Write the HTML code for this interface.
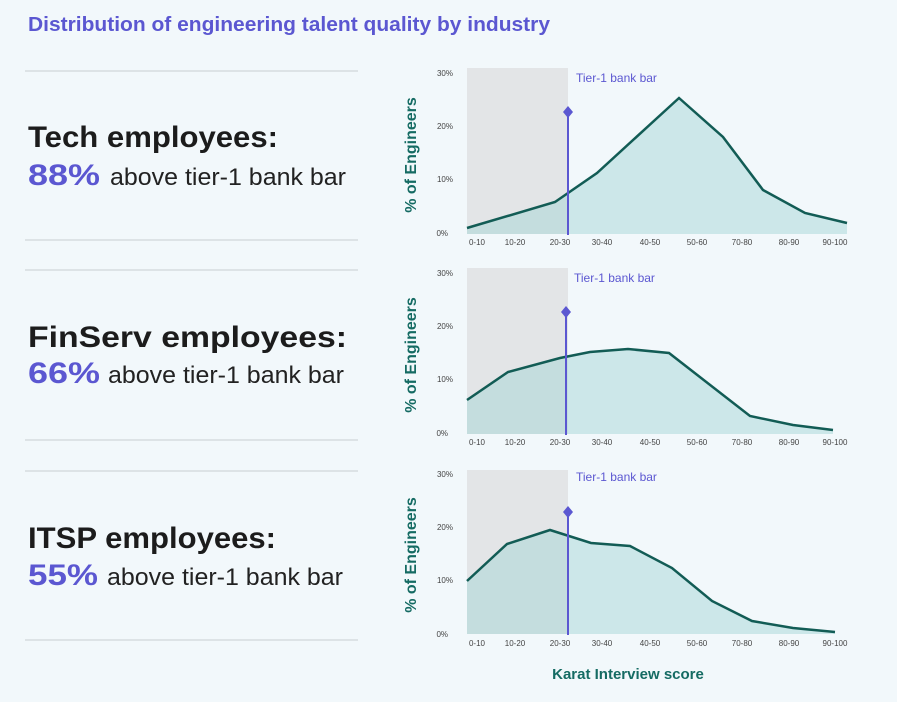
<!DOCTYPE html>
<html><head><meta charset="utf-8"><style>
html,body{margin:0;padding:0;background:#f2f8fb;}
svg{display:block;font-family:"Liberation Sans",sans-serif;}
</style></head><body>
<svg width="897" height="702" viewBox="0 0 897 702" xmlns="http://www.w3.org/2000/svg">
<rect width="897" height="702" fill="#f2f8fb"/>
<text x="28" y="31" font-size="20" font-weight="bold" fill="#5b57d1" textLength="522" lengthAdjust="spacingAndGlyphs">Distribution of engineering talent quality by industry</text>
<g stroke="#dde3e6" stroke-width="2">
<line x1="25" y1="71" x2="358" y2="71"/><line x1="25" y1="240" x2="358" y2="240"/>
<line x1="25" y1="270" x2="358" y2="270"/><line x1="25" y1="440" x2="358" y2="440"/>
<line x1="25" y1="471" x2="358" y2="471"/><line x1="25" y1="640" x2="358" y2="640"/>
</g>
<g font-size="30" font-weight="bold" fill="#1c1c1c">
<text x="28" y="147" textLength="250" lengthAdjust="spacingAndGlyphs">Tech employees:</text>
<text x="28" y="347" textLength="319" lengthAdjust="spacingAndGlyphs">FinServ employees:</text>
<text x="28" y="548" textLength="248" lengthAdjust="spacingAndGlyphs">ITSP employees:</text>
</g>
<g fill="#222">
<text x="28" y="185" font-size="30" font-weight="bold" fill="#5b57d1" textLength="72" lengthAdjust="spacingAndGlyphs">88%</text>
<text x="110" y="185" font-size="24" textLength="236" lengthAdjust="spacingAndGlyphs">above tier-1 bank bar</text>
<text x="28" y="383" font-size="30" font-weight="bold" fill="#5b57d1" textLength="72" lengthAdjust="spacingAndGlyphs">66%</text>
<text x="108" y="383" font-size="24" textLength="236" lengthAdjust="spacingAndGlyphs">above tier-1 bank bar</text>
<text x="28" y="585" font-size="30" font-weight="bold" fill="#5b57d1" textLength="70" lengthAdjust="spacingAndGlyphs">55%</text>
<text x="107" y="585" font-size="24" textLength="236" lengthAdjust="spacingAndGlyphs">above tier-1 bank bar</text>
</g>

<g>
<rect x="467" y="68" width="101" height="166" fill="#e3e5e7"/>
<polygon points="467,234 467,228 555,202 597,173 679,98 723,137 763,190 805,213 847,223 847,234" fill="#9dd3d3" fill-opacity="0.45"/>
<polyline points="467,228 555,202 597,173 679,98 723,137 763,190 805,213 847,223" fill="none" stroke="#125c55" stroke-width="2.5"/>
<line x1="568" y1="112" x2="568" y2="235" stroke="#5b57d1" stroke-width="2"/>
<polygon points="568,106 573,112 568,118 563,112" fill="#5b57d1"/>
<text x="576" y="82" font-size="12" fill="#5b57d1">Tier-1 bank bar</text>
<g font-size="8" fill="#444" text-anchor="end"><text x="453" y="76">30%</text><text x="453" y="129">20%</text><text x="453" y="182">10%</text><text x="448" y="236">0%</text></g>
<text transform="translate(416,155) rotate(-90)" font-size="16" font-weight="bold" fill="#156b63" text-anchor="middle">% of Engineers</text>
<g font-size="8" fill="#444" text-anchor="middle"><text x="477" y="245">0-10</text><text x="515" y="245">10-20</text><text x="560" y="245">20-30</text><text x="602" y="245">30-40</text><text x="650" y="245">40-50</text><text x="697" y="245">50-60</text><text x="742" y="245">70-80</text><text x="789" y="245">80-90</text><text x="835" y="245">90-100</text></g>
</g>

<g transform="translate(0,200)">
<rect x="467" y="68" width="101" height="166" fill="#e3e5e7"/>
<polygon points="467,234 467,200 508,172 560,158 590,152 628,149 669,153 750,216 793,225 833,230 833,234" fill="#9dd3d3" fill-opacity="0.45"/>
<polyline points="467,200 508,172 560,158 590,152 628,149 669,153 750,216 793,225 833,230" fill="none" stroke="#125c55" stroke-width="2.5"/>
<line x1="566" y1="112" x2="566" y2="235" stroke="#5b57d1" stroke-width="2"/>
<polygon points="566,106 571,112 566,118 561,112" fill="#5b57d1"/>
<text x="574" y="82" font-size="12" fill="#5b57d1">Tier-1 bank bar</text>
<g font-size="8" fill="#444" text-anchor="end"><text x="453" y="76">30%</text><text x="453" y="129">20%</text><text x="453" y="182">10%</text><text x="448" y="236">0%</text></g>
<text transform="translate(416,155) rotate(-90)" font-size="16" font-weight="bold" fill="#156b63" text-anchor="middle">% of Engineers</text>
<g font-size="8" fill="#444" text-anchor="middle"><text x="477" y="245">0-10</text><text x="515" y="245">10-20</text><text x="560" y="245">20-30</text><text x="602" y="245">30-40</text><text x="650" y="245">40-50</text><text x="697" y="245">50-60</text><text x="742" y="245">70-80</text><text x="789" y="245">80-90</text><text x="835" y="245">90-100</text></g>
</g>

<g transform="translate(0,401)">
<rect x="467" y="69" width="101" height="164" fill="#e3e5e7"/>
<polygon points="467,233 467,180 507,143 550,129 591,142 630,145 672,167 712,200 752,220 793,227 835,231 835,233" fill="#9dd3d3" fill-opacity="0.45"/>
<polyline points="467,180 507,143 550,129 591,142 630,145 672,167 712,200 752,220 793,227 835,231" fill="none" stroke="#125c55" stroke-width="2.5"/>
<line x1="568" y1="111" x2="568" y2="234" stroke="#5b57d1" stroke-width="2"/>
<polygon points="568,105 573,111 568,117 563,111" fill="#5b57d1"/>
<text x="576" y="80" font-size="12" fill="#5b57d1">Tier-1 bank bar</text>
<g font-size="8" fill="#444" text-anchor="end"><text x="453" y="76">30%</text><text x="453" y="129">20%</text><text x="453" y="182">10%</text><text x="448" y="236">0%</text></g>
<text transform="translate(416,154) rotate(-90)" font-size="16" font-weight="bold" fill="#156b63" text-anchor="middle">% of Engineers</text>
<g font-size="8" fill="#444" text-anchor="middle"><text x="477" y="245">0-10</text><text x="515" y="245">10-20</text><text x="560" y="245">20-30</text><text x="602" y="245">30-40</text><text x="650" y="245">40-50</text><text x="697" y="245">50-60</text><text x="742" y="245">70-80</text><text x="789" y="245">80-90</text><text x="835" y="245">90-100</text></g>
</g>
<text x="628" y="679" font-size="15" font-weight="bold" fill="#156b63" text-anchor="middle">Karat Interview score</text>
</svg>
</body></html>
